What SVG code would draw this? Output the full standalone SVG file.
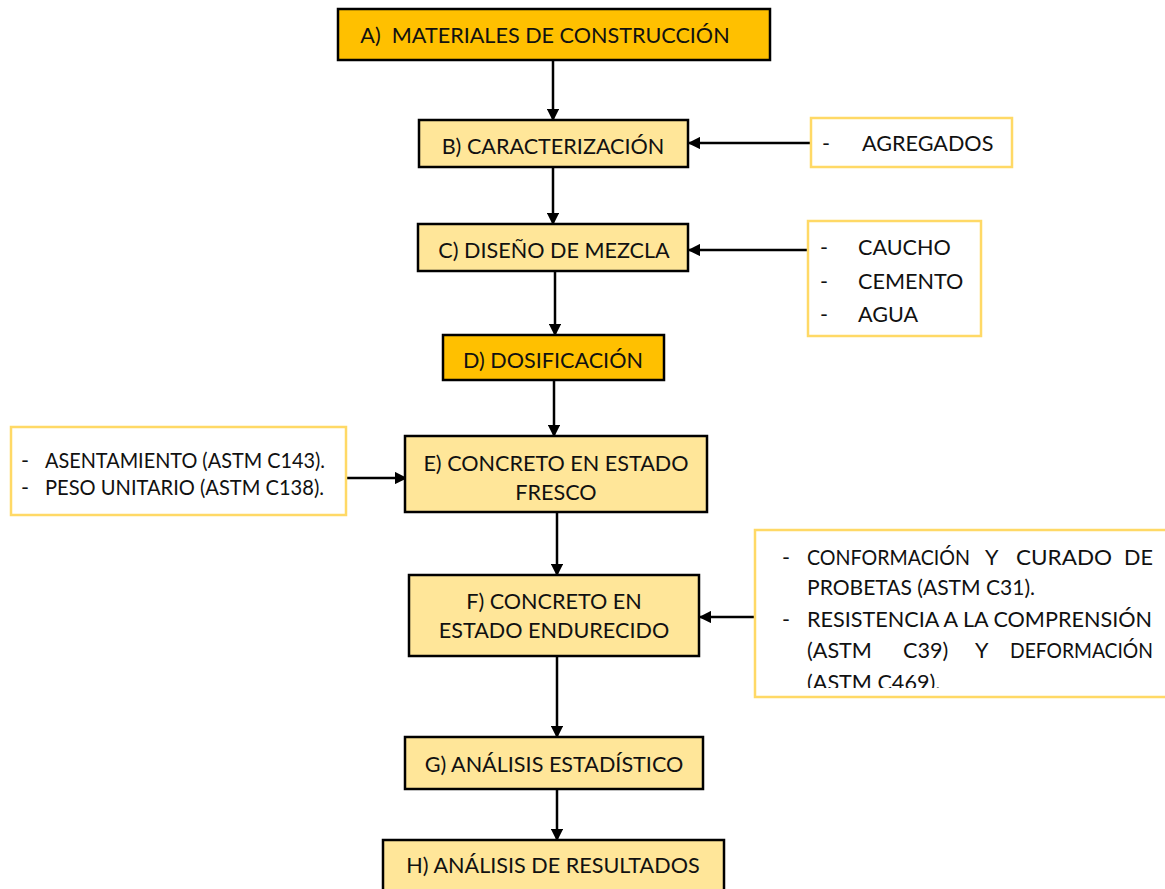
<svg xmlns="http://www.w3.org/2000/svg" width="1165" height="889" viewBox="0 0 1165 889">
<style>
.dark{fill:#FFC000;stroke:#000;stroke-width:2.5}
.light{fill:#FFE699;stroke:#000;stroke-width:2.5}
.side{fill:#fff;stroke:#FFD966;stroke-width:2.5}
text{font-family:Lato,"Open Sans",sans-serif;font-size:21.6px;fill:#111}
.c{text-anchor:middle}
.e{text-anchor:end}
.conn{stroke:#000;stroke-width:2.5;fill:none;marker-end:url(#ah)}
</style>
<defs>
<marker id="ah" viewBox="0 0 10 10" refX="9" refY="5" markerWidth="5" markerHeight="5" orient="auto" markerUnits="strokeWidth">
<path d="M0,0 L10,5 L0,10 z" fill="#000"/>
</marker>
<clipPath id="clipF"><rect x="755" y="530" width="410" height="158"/></clipPath>
</defs>
<rect width="1165" height="889" fill="#fff"/>
<g id="connectors">
<line class="conn" x1="553" y1="60" x2="553" y2="120"/>
<line class="conn" x1="553" y1="167" x2="553" y2="224"/>
<line class="conn" x1="555" y1="271" x2="555" y2="335"/>
<line class="conn" x1="554" y1="380" x2="554" y2="436"/>
<line class="conn" x1="557" y1="512" x2="557" y2="575"/>
<line class="conn" x1="557" y1="656" x2="557" y2="737"/>
<line class="conn" x1="557" y1="789" x2="557" y2="840"/>
<line class="conn" x1="811" y1="143" x2="689" y2="143"/>
<line class="conn" x1="808" y1="250" x2="689" y2="250"/>
<line class="conn" x1="346" y1="478" x2="406" y2="478"/>
<line class="conn" x1="755" y1="617" x2="700" y2="617"/>
</g>
<g id="nodeA">
<rect class="dark" x="338" y="9" width="432" height="51"/>
<text x="545" y="43" class="c" xml:space="preserve">A)  MATERIALES DE CONSTRUCCIÓN</text>
</g>
<g id="nodeB">
<rect class="light" x="419" y="120" width="269" height="47"/>
<text x="553" y="154" class="c">B) CARACTERIZACIÓN</text>
</g>
<g id="nodeC">
<rect class="light" x="418" y="224" width="270" height="47"/>
<text x="554" y="258" class="c">C) DISEÑO DE MEZCLA</text>
</g>
<g id="nodeD">
<rect class="dark" x="443" y="335" width="221" height="45"/>
<text x="553" y="368" class="c">D) DOSIFICACIÓN</text>
</g>
<g id="nodeE">
<rect class="light" x="405" y="436" width="302" height="76"/>
<text x="556" y="471" class="c">E) CONCRETO EN ESTADO</text>
<text x="556" y="500" class="c">FRESCO</text>
</g>
<g id="nodeF">
<rect class="light" x="409" y="575" width="290" height="81"/>
<text x="554" y="609" class="c">F) CONCRETO EN</text>
<text x="554" y="638" class="c">ESTADO ENDURECIDO</text>
</g>
<g id="nodeG">
<rect class="light" x="405" y="737" width="298" height="52"/>
<text x="554" y="772" class="c">G) ANÁLISIS ESTADÍSTICO</text>
</g>
<g id="nodeH">
<rect class="light" x="383" y="840" width="341" height="60"/>
<text x="553" y="873" class="c">H) ANÁLISIS DE RESULTADOS</text>
</g>
<g id="sideAgregados">
<rect class="side" x="811" y="118" width="201" height="49"/>
<text x="822" y="151">-</text>
<text x="862" y="151">AGREGADOS</text>
</g>
<g id="sideMezcla">
<rect class="side" x="808" y="221" width="173" height="115"/>
<text x="820" y="255">-</text><text x="858" y="255">CAUCHO</text>
<text x="820" y="289">-</text><text x="858" y="289">CEMENTO</text>
<text x="820" y="322">-</text><text x="858" y="322">AGUA</text>
</g>
<g id="sideFresco">
<rect class="side" x="11" y="427" width="335" height="88"/>
<text x="21" y="468">-</text><text x="45" y="468" textLength="280" lengthAdjust="spacingAndGlyphs">ASENTAMIENTO (ASTM C143).</text>
<text x="21" y="495">-</text><text x="45" y="495" textLength="279" lengthAdjust="spacingAndGlyphs">PESO UNITARIO (ASTM C138).</text>
</g>
<g id="sideEndurecido">
<rect class="side" x="755" y="530" width="420" height="167"/>
<g clip-path="url(#clipF)">
<text x="782" y="565">-</text>
<text x="807" y="565" textLength="163" lengthAdjust="spacingAndGlyphs">CONFORMACIÓN</text><text x="985" y="565">Y</text><text x="1016" y="565" textLength="96" lengthAdjust="spacingAndGlyphs">CURADO</text><text x="1153" y="565" class="e">DE</text>
<text x="807" y="595" textLength="228" lengthAdjust="spacingAndGlyphs">PROBETAS (ASTM C31).</text>
<text x="782" y="627">-</text>
<text x="807" y="627" textLength="345" lengthAdjust="spacingAndGlyphs">RESISTENCIA A LA COMPRENSIÓN</text>
<text x="807" y="658">(ASTM</text><text x="903" y="658">C39)</text><text x="975" y="658">Y</text><text x="1010" y="658" textLength="143" lengthAdjust="spacingAndGlyphs">DEFORMACIÓN</text>
<text x="807" y="690">(ASTM C469).</text>
</g>
</g>
</svg>
